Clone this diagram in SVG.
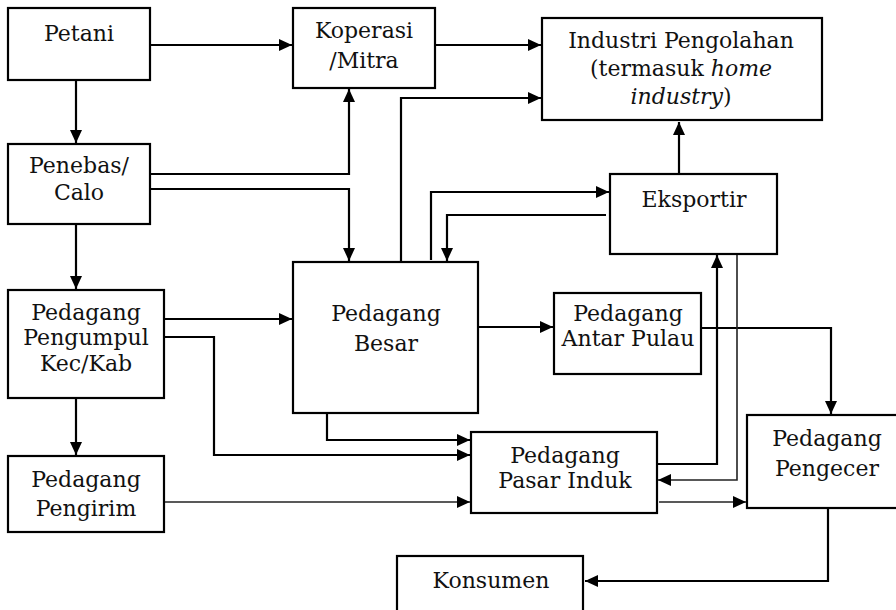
<svg xmlns="http://www.w3.org/2000/svg" width="896" height="610" viewBox="0 0 896 610">
<style>
.box{fill:#fff;stroke:#000;stroke-width:2.2}
.t{font-family:"DejaVu Serif","Liberation Serif",serif;font-size:22px;fill:#111;text-anchor:middle}
.c{fill:none;stroke:#000;stroke-width:2.2}
.thin{stroke-width:1.6;stroke:#222}
.i{font-style:italic}
</style>
<defs>
<marker id="a" markerUnits="userSpaceOnUse" markerWidth="14" markerHeight="12" refX="13" refY="6" orient="auto">
<path d="M0,0 L13,6 L0,12 z" fill="#000"/>
</marker>
</defs>
<rect width="896" height="610" fill="#fff"/>
<g id="connectors">
<path class="c" d="M150,45 H292" marker-end="url(#a)"/>
<path class="c" d="M76,80 V143" marker-end="url(#a)"/>
<path class="c" d="M150,174 H349 V89" marker-end="url(#a)"/>
<path class="c" d="M150,189 H349 V261" marker-end="url(#a)"/>
<path class="c" d="M76,224 V289" marker-end="url(#a)"/>
<path class="c" d="M164,319 H292" marker-end="url(#a)"/>
<path class="c" d="M164,337 H214 V455 H470" marker-end="url(#a)"/>
<path class="c" d="M76,398 V455" marker-end="url(#a)"/>
<path class="c thin" d="M164,502 H470" marker-end="url(#a)"/>
<path class="c" d="M435,45 H541" marker-end="url(#a)"/>
<path class="c" d="M401,262 V98 H541" marker-end="url(#a)"/>
<path class="c" d="M679,174 V122" marker-end="url(#a)"/>
<path class="c" d="M431,260 V192 H609" marker-end="url(#a)"/>
<path class="c" d="M606,215 H447 V261" marker-end="url(#a)"/>
<path class="c" d="M478,327 H553" marker-end="url(#a)"/>
<path class="c" d="M701,328 H831 V414" marker-end="url(#a)"/>
<path class="c" d="M327,413 V440 H470" marker-end="url(#a)"/>
<path class="c" d="M657,464 H717 V255" marker-end="url(#a)"/>
<path class="c thin" d="M737,254 V480 H658" marker-end="url(#a)"/>
<path class="c thin" d="M659,502 H746" marker-end="url(#a)"/>
<path class="c" d="M828,508 V581 H585" marker-end="url(#a)"/>
</g>
<g id="petani"><rect class="box" x="8" y="8" width="142" height="72"/><text class="t" x="79" y="41">Petani</text></g>
<g id="koperasi"><rect class="box" x="293" y="8" width="142" height="80"/><text class="t" x="364" y="38">Koperasi</text><text class="t" x="364" y="68">/Mitra</text></g>
<g id="industri"><rect class="box" x="542" y="18" width="280" height="102"/><text class="t" x="681" y="48">Industri Pengolahan</text><text class="t" x="681" y="76">(termasuk <tspan class="i">home</tspan></text><text class="t" x="681" y="104"><tspan class="i">industry</tspan>)</text></g>
<g id="penebas"><rect class="box" x="8" y="144" width="142" height="80"/><text class="t" x="79" y="173">Penebas/</text><text class="t" x="79" y="200">Calo</text></g>
<g id="eksportir"><rect class="box" x="610" y="174" width="167" height="80"/><text class="t" x="694" y="207">Eksportir</text></g>
<g id="pengumpul"><rect class="box" x="8" y="290" width="156" height="108"/><text class="t" x="86" y="320">Pedagang</text><text class="t" x="86" y="345">Pengumpul</text><text class="t" x="86" y="371">Kec/Kab</text></g>
<g id="besar"><rect class="box" x="293" y="262" width="185" height="151"/><text class="t" x="386" y="321">Pedagang</text><text class="t" x="386" y="351">Besar</text></g>
<g id="antarpulau"><rect class="box" x="554" y="293" width="147" height="81"/><text class="t" x="628" y="321">Pedagang</text><text class="t" x="628" y="346">Antar Pulau</text></g>
<g id="pengirim"><rect class="box" x="8" y="456" width="156" height="76"/><text class="t" x="86" y="487">Pedagang</text><text class="t" x="86" y="516">Pengirim</text></g>
<g id="pasarinduk"><rect class="box" x="471" y="432" width="186" height="81"/><text class="t" x="565" y="463">Pedagang</text><text class="t" x="565" y="488">Pasar Induk</text></g>
<g id="pengecer"><rect class="box" x="747" y="415" width="160" height="93"/><text class="t" x="827" y="446">Pedagang</text><text class="t" x="827" y="476">Pengecer</text></g>
<g id="konsumen"><rect class="box" x="397" y="556" width="186" height="70"/><text class="t" x="491" y="588">Konsumen</text></g>
</svg>
